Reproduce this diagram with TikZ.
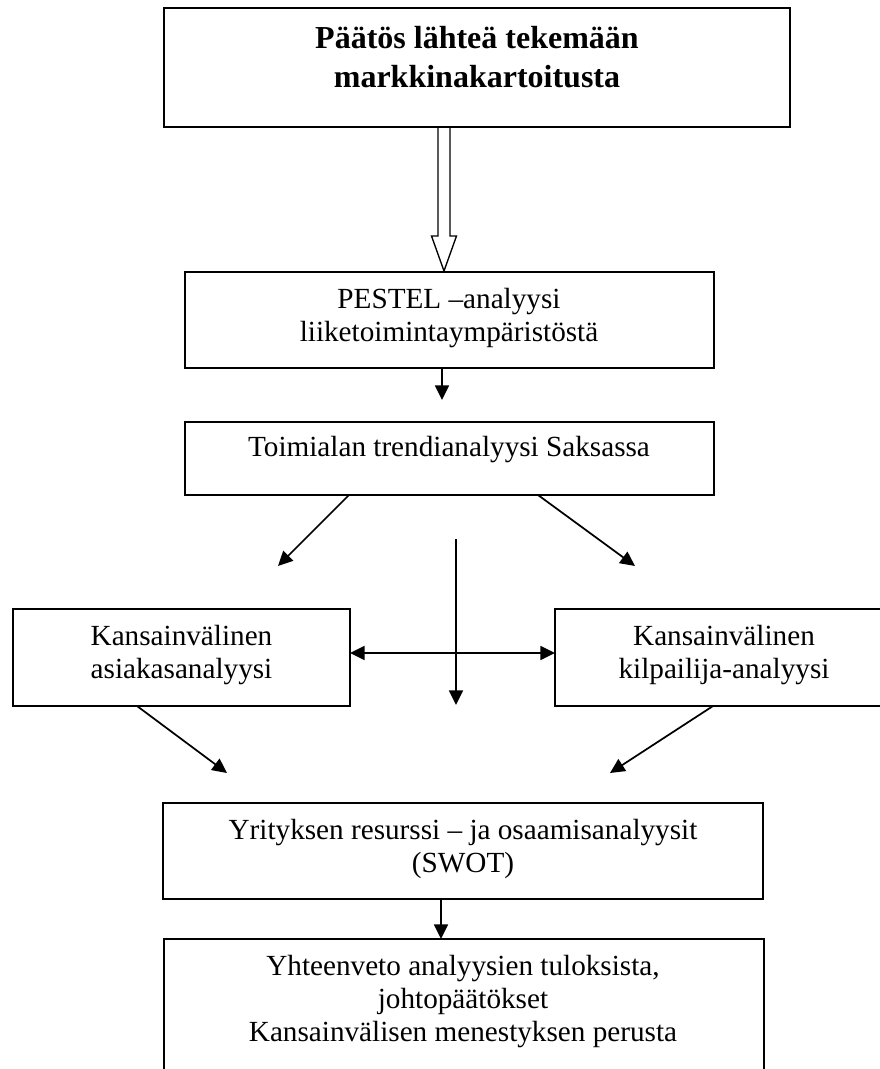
\documentclass[tikz,border=0pt]{standalone}
\usepackage{fontspec}
\setmainfont{Liberation Serif}
\usetikzlibrary{arrows.meta,calc}
\tikzset{
  box/.style={draw, line width=1.3pt, inner sep=0pt, outer sep=0pt},
  txt/.style={align=center, inner sep=0pt, font=\fontsize{21.9pt}{24.75pt}\selectfont},
  btxt/.style={align=center, inner sep=0pt, font=\fontsize{24pt}{29.25pt}\selectfont\bfseries},
  conn/.style={line width=1.3pt, -{Triangle[length=11pt,width=10.5pt]}},
  dconn/.style={line width=1.3pt, {Triangle[length=11pt,width=10.5pt]}-{Triangle[length=11pt,width=10.5pt]}},
  hollow/.style={line width=1pt, line join=miter},
}
\begin{document}
\begin{tikzpicture}[x=0.75pt,y=-0.75pt]
\useasboundingbox (0,0) rectangle (880,1069);
\clip (0,0) rectangle (880,1069);

% boxes
\node[box, minimum width=469.5pt, minimum height=89.25pt] (top) at (477,67.5) {};
\node[btxt] (toptxt) at (477,57.5) {Päätös lähteä tekemään\\markkinakartoitusta};

\node[box, minimum width=396.75pt, minimum height=72pt] (pestel) at (449.5,320) {};
\node[txt] (pesteltxt) at (449,318.5) {PESTEL –analyysi\\liiketoimintaympäristöstä};

\node[box, minimum width=396.75pt, minimum height=54.75pt] (trend) at (449.5,458.5) {};
\node[txt] (trendtxt) at (449,450) {Toimialan trendianalyysi Saksassa};

\node[box, minimum width=252.75pt, minimum height=72.75pt] (asiakas) at (181.5,657.5) {};
\node[txt] (asiakastxt) at (181.5,655) {Kansainvälinen\\asiakasanalyysi};

\node[box, minimum width=253.5pt, minimum height=72.75pt] (kilp) at (724,657.5) {};
\node[txt] (kilptxt) at (724,655) {Kansainvälinen\\kilpailija-analyysi};

\node[box, minimum width=450pt, minimum height=72pt] (swot) at (463,851) {};
\node[txt] (swottxt) at (463,849) {Yrityksen resurssi – ja osaamisanalyysit\\(SWOT)};

\node[box, minimum width=450pt, minimum height=105.75pt] (final) at (464,1009.5) {};
\node[txt] (finaltxt) at (463,1002) {Yhteenveto analyysien tuloksista,\\johtopäätökset\\Kansainvälisen menestyksen perusta};

% hollow arrow top -> pestel
\coordinate (hs) at ($(top.south)+(-33,0)$);
\coordinate (he) at ($(pestel.north)+(-5.5,-1)$);
\draw[hollow] ($(hs)+(-6,0)$) -- ($(hs)+(-6,109)$) -- ($(hs)+(-12.5,109)$) -- (he)
  -- ($(hs)+(12.5,109)$) -- ($(hs)+(6,109)$) -- ($(hs)+(6,0)$);

% free ends
\coordinate (e1) at (442,400);
\coordinate (e2) at (278,566);
\coordinate (e3) at (635,566);
\coordinate (vtop) at (456,539);
\coordinate (vend) at (456,705);
\coordinate (e4) at (227,773);
\coordinate (e5) at (610,773);

\draw[conn] ($(pestel.south)+(-7.5,0)$) -- (e1);
\draw[conn] ($(trend.south)+(-100.5,0)$) -- (e2);
\draw[conn] ($(trend.south)+(88.5,0)$) -- (e3);
\draw[conn] (vtop) -- (vend);
\draw[dconn] ($(asiakas.east)+(0,-4.5)$) -- ($(kilp.west)+(0,-4.5)$);
\draw[conn] ($(asiakas.south)+(-44.5,0)$) -- (e4);
\draw[conn] ($(kilp.south)+(-11,0)$) -- (e5);
\draw[conn] ($(swot.south)+(-22,0)$) -- ($(final.north)+(-23,0)$);
\end{tikzpicture}
\end{document}
